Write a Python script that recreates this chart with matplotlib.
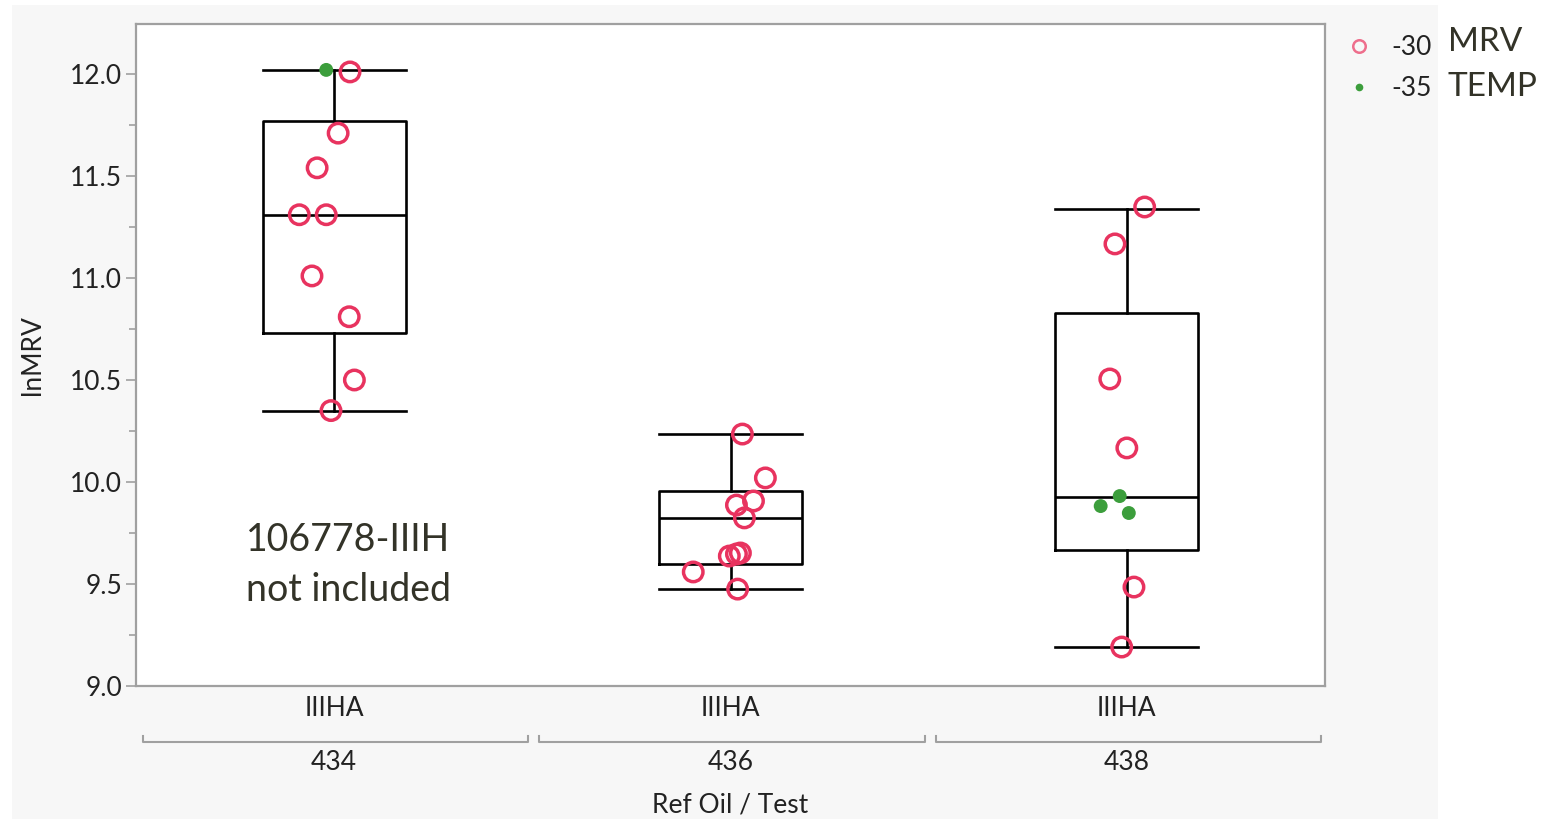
import matplotlib
matplotlib.use("Agg")
import matplotlib.pyplot as plt
from matplotlib.patches import Rectangle
from matplotlib.lines import Line2D

# ---- data ----
ref_oils = ["434", "436", "438"]
test_labels = ["IIIHA", "IIIHA", "IIIHA"]

# lnMRV values at -30 (red open circles) and -35 (green dots)
m30_434 = [12.01, 11.71, 11.54, 11.31, 11.31, 11.01, 10.81, 10.50, 10.35]
m35_434 = [12.02]
m30_436 = [10.235, 10.02, 9.907, 9.887, 9.824, 9.652, 9.647, 9.637, 9.559, 9.475]
m35_436 = []
m30_438 = [11.348, 11.167, 10.505, 10.167, 9.485, 9.191]
m35_438 = [9.931, 9.882, 9.848]

# horizontal jitter (as drawn)
j30_434 = [0.040, 0.010, -0.043, -0.088, -0.020, -0.056, 0.038, 0.051, -0.008]
j35_434 = [-0.020]
j30_436 = [0.030, 0.088, 0.058, 0.015, 0.035, 0.025, 0.015, -0.003, -0.094, 0.018]
j35_436 = []
j30_438 = [0.045, -0.030, -0.043, 0.0, 0.018, -0.013]
j35_438 = [-0.018, -0.066, 0.005]

# box statistics: whisker low, q1, median, q3, whisker high
whislo = [10.35, 9.475, 9.19]
q1 = [10.73, 9.598, 9.667]
med = [11.31, 9.824, 9.926]
q3 = [11.77, 9.956, 10.828]
whishi = [12.02, 10.235, 11.338]

temps = ["-30", "-35"]

# ---- figure ----
W, H = 1546, 819
fig = plt.figure(figsize=(W / 100, H / 100), dpi=100)
fig.patch.set_facecolor("white")
fig.add_artist(Rectangle((12 / W, 0), (1438 - 12) / W, (819 - 5) / H,
                         transform=fig.transFigure, facecolor="#f7f7f7",
                         edgecolor="none", zorder=0))

ax = fig.add_axes([136 / W, 1 - 686 / H, (1325 - 136) / W, (686 - 24) / H])
ax.set_facecolor("white")

font = "Lato"
txt_color = "#222222"
fs = 19

stats = []
for i in range(3):
    stats.append(dict(whislo=whislo[i], q1=q1[i], med=med[i], q3=q3[i],
                      whishi=whishi[i], label=ref_oils[i]))
lw = 1.9
ax.bxp(stats, positions=[0, 1, 2], widths=0.36, showfliers=False,
       boxprops=dict(color="black", linewidth=lw),
       whiskerprops=dict(color="black", linewidth=lw),
       capprops=dict(color="black", linewidth=lw),
       medianprops=dict(color="black", linewidth=lw),
       capwidths=0.36, manage_ticks=False, zorder=2)

red = "#E8335F"
green = "#3C9E3C"
m30 = [m30_434, m30_436, m30_438]
m35 = [m35_434, m35_436, m35_438]
j30 = [j30_434, j30_436, j30_438]
j35 = [j35_434, j35_436, j35_438]
for i in range(3):
    xs = [i + d for d in j30[i]]
    ax.scatter(xs, m30[i], s=196, facecolors="none", edgecolors=red,
               linewidths=2.5, zorder=3)
    if m35[i]:
        xs = [i + d for d in j35[i]]
        ax.scatter(xs, m35[i], s=100, color=green, edgecolors="none", zorder=4)

ax.set_xlim(-0.5, 2.5)
ax.set_ylim(9.0, 12.245)
ax.set_yticks([9.0, 9.5, 10.0, 10.5, 11.0, 11.5, 12.0])
ax.set_yticks([9.25, 9.75, 10.25, 10.75, 11.25, 11.75], minor=True)
ax.yaxis.set_major_formatter(matplotlib.ticker.FormatStrFormatter("%.1f"))
ax.tick_params(axis="y", which="major", length=7, width=1.2, color="#a0a0a0",
               labelsize=fs, labelcolor=txt_color, pad=3)
ax.tick_params(axis="y", which="minor", length=5, width=1.2, color="#a0a0a0")
for lab in ax.get_yticklabels():
    lab.set_fontfamily(font)

ax.set_xticks([0, 1, 2])
ax.set_xticklabels(test_labels, fontfamily=font, fontsize=fs, color=txt_color)
ax.tick_params(axis="x", length=0, pad=7)

for sp in ax.spines.values():
    sp.set_color("#a0a0a0")
    sp.set_linewidth(1.6)

# grouping brackets and ref oil labels
tr = ax.get_xaxis_transform()
ah = 686 - 24
yb = -(742 - 686) / ah
tick_h = 6 / ah
for i, r in enumerate(ref_oils):
    x0, x1 = i - 0.482, i + 0.49
    ax.add_line(Line2D([x0, x0, x1, x1], [yb + tick_h, yb, yb, yb + tick_h],
                       transform=tr, color="#a0a0a0", linewidth=1.5,
                       clip_on=False))
    ax.text(i, -(762 - 686) / ah, r, transform=tr, ha="center", va="center",
            fontsize=fs, fontfamily=font, color=txt_color)

ax.text(1, -(805 - 686) / ah, "Ref Oil / Test", transform=tr, ha="center",
        va="center", fontsize=fs, fontfamily=font, color=txt_color)

fig.text(32 / W, 1 - 355 / H, "lnMRV", rotation=90, ha="center", va="center",
         fontsize=fs, fontfamily=font, color=txt_color)

# annotation
fig.text(348 / W, 1 - 540 / H, "106778-IIIH", ha="center", va="center",
         fontsize=27, fontfamily=font, color="#333328")
fig.text(348 / W, 1 - 590 / H, "not included", ha="center", va="center",
         fontsize=27, fontfamily=font, color="#333328")

# legend
h30 = Line2D([], [], linestyle="none", marker="o", markersize=9,
             markerfacecolor="none", markeredgecolor="#EE6E8C",
             markeredgewidth=1.8)
h35 = Line2D([], [], linestyle="none", marker="o", markersize=5.5,
             markerfacecolor=green, markeredgecolor="none")
leg = fig.legend([h30, h35], temps, loc="upper left",
                 bbox_to_anchor=(1325 / W, 1 - 17 / H), frameon=False,
                 prop=dict(family=font, size=fs), labelcolor=txt_color,
                 handlelength=1.2, handletextpad=0.6, labelspacing=0.58,
                 borderpad=0.2)

fig.text(1448 / W, 1 - 42 / H, "MRV", ha="left", va="center",
         fontsize=24, fontfamily=font, color="#333328")
fig.text(1448 / W, 1 - 87 / H, "TEMP", ha="left", va="center",
         fontsize=24, fontfamily=font, color="#333328")

fig.savefig("out.png", dpi=100, facecolor=fig.get_facecolor())
